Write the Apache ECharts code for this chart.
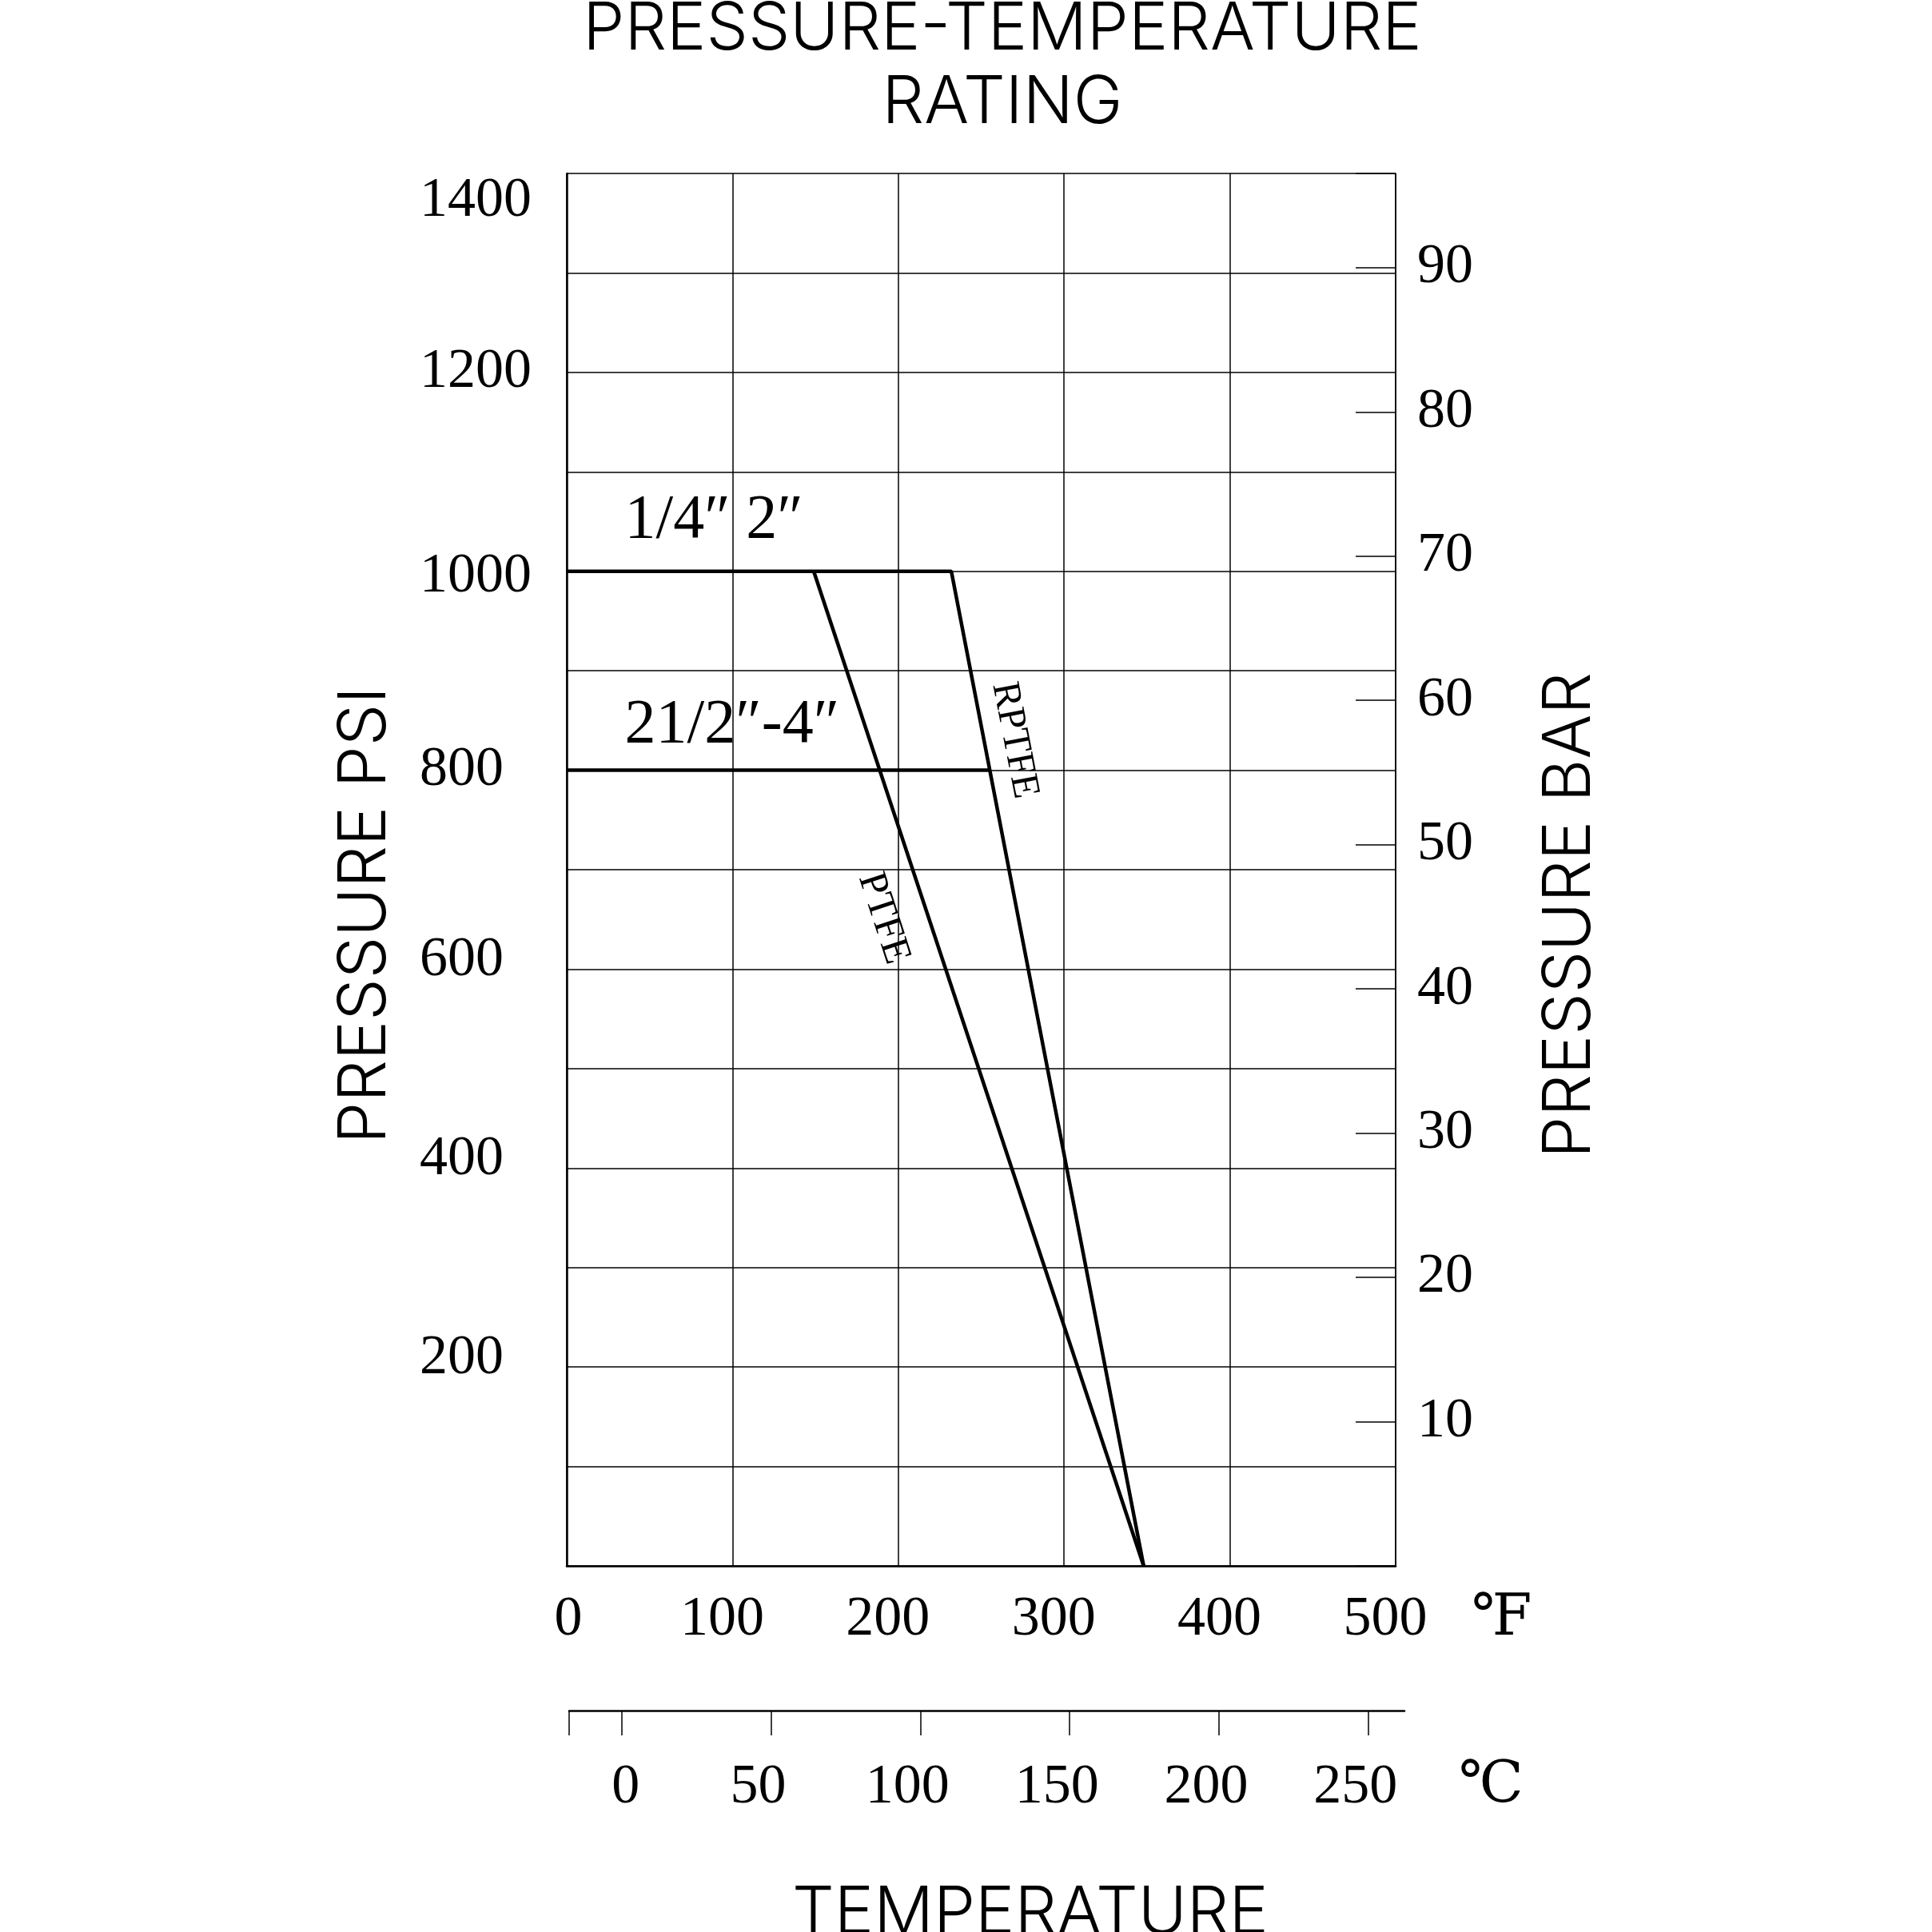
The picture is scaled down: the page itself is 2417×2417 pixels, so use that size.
<!DOCTYPE html>
<html>
<head>
<meta charset="utf-8">
<script src="https://cdn.jsdelivr.net/npm/echarts@6/dist/echarts.min.js"></script>
<style>html,body{margin:0;padding:0;background:#fff}#c{width:2417px;height:2417px}</style>
</head>
<body>
<div id="c"></div>
<script>
// ---- axis ticks / labels ----
const tempFTicks = [0, 100, 200, 300, 400, 500];
const tempCLabels = [0, 50, 100, 150, 200, 250];
const psiLabels = [200, 400, 600, 800, 1000, 1200, 1400];
const barLabels = [10, 20, 30, 40, 50, 60, 70, 80, 90];
const PSI_PER_BAR = 14.5038;
const psiMax = 1400;
const cMin = -17.6, cMax = 262.1;

// ---- series values (°F, psi) ----
const rptfeSmallTemp = [0, 232, 348];   // 1/4"-2" RPTFE
const rptfeSmallPsi  = [1000, 1000, 0];
const ptfeTemp = [149, 348];           // PTFE
const ptfePsi  = [1000, 0];
const rptfeLargeTemp = [0, 255];        // 2 1/2"-4"
const rptfeLargePsi  = [800, 800];

// ---- annotations ----
const annoText = ['1/4″ 2″', '21/2″-4″', 'RPTFE', 'PTFE'];
const annoTemp = [35, 35, 270, 191];
const annoPsi  = [1051, 845, 830, 651];

const zip = (a, b) => a.map((v, i) => [v, b[i]]);

const sansTitle = {fontFamily: 'Inter, "Noto Sans", sans-serif', fontWeight: 300, fontSize: 83, color: '#000'};
const serif = '"Liberation Serif", "DejaVu Serif", serif';
const unitFont = '"DejaVu Serif", "DejaVu Sans", "Noto Sans CJK SC", serif';
const digitStyle = {fontFamily: serif, fontSize: 70, color: '#000'};

const lineStyle = {color: '#000', width: 4.5};
const gridLine = {lineStyle: {color: '#000', width: 1.5}};

const annoStyles = [
  {fontSize: 78, align: 'left', rotate: 0},
  {fontSize: 78, align: 'left', rotate: 0},
  {fontSize: 49, align: 'center', rotate: -79},
  {fontSize: 50, align: 'center', rotate: -72}
];

const chart = echarts.init(document.getElementById('c'), null, {renderer: 'canvas'});
chart.setOption({
  animation: false,
  backgroundColor: '#fff',
  title: [
    {text: 'PRESSURE-TEMPERATURE\nRATING', left: 1254, top: -9, padding: 0, textAlign: 'center',
     textStyle: Object.assign({}, sansTitle, {lineHeight: 92})},
    {text: 'TEMPERATURE', left: 1289, top: 2348, padding: 0, textAlign: 'center',
     textStyle: Object.assign({}, sansTitle, {lineHeight: 92})},
    {text: '℉', left: 1841, top: 1990, padding: 0, textAlign: 'left',
     textStyle: {fontFamily: unitFont, fontWeight: 'normal', fontSize: 72, lineHeight: 72, color: '#000'}},
    {text: '℃', left: 1825, top: 2199, padding: 0, textAlign: 'left',
     textStyle: {fontFamily: unitFont, fontWeight: 'normal', fontSize: 72, lineHeight: 72, color: '#000'}}
  ],
  grid: [
    {left: 709, top: 217, width: 1037, height: 1742, outerBoundsMode: 'none', containLabel: false},
    {left: 712, top: 2139, width: 1045, height: 1, outerBoundsMode: 'none', containLabel: false}
  ],
  xAxis: [
    {
      type: 'value', gridIndex: 0, min: tempFTicks[0], max: tempFTicks[tempFTicks.length - 1], interval: 100,
      axisLine: {show: true, onZero: false, lineStyle: {color: '#000', width: 2.5}},
      axisTick: {show: false},
      splitLine: Object.assign({show: true}, gridLine),
      axisLabel: Object.assign({show: true, margin: 33,
        formatter: v => !tempFTicks.includes(v) ? '' : (v === 0 ? '{z|0}' : '{s|' + v + '}'),
        rich: {z: Object.assign({padding: [0, 0, 0, 4]}, digitStyle), s: Object.assign({padding: [0, 26, 0, 0]}, digitStyle)}
      }, digitStyle)
    },
    {
      type: 'value', gridIndex: 1, min: cMin, max: cMax,
      axisLine: {show: true, onZero: false, lineStyle: {color: '#000', width: 2.5}},
      axisTick: {show: true, length: 31, lineStyle: {color: '#000', width: 1.5}, customValues: [cMin].concat(tempCLabels)},
      splitLine: {show: false},
      axisLabel: Object.assign({show: true, margin: 62, customValues: tempCLabels,
        formatter: v => v === 0 ? '{z|0}' : '{s|' + v + '}',
        rich: {z: Object.assign({padding: [0, 0, 0, 10]}, digitStyle), s: Object.assign({padding: [0, 32, 0, 0]}, digitStyle)}
      }, digitStyle)
    }
  ],
  yAxis: [
    {
      type: 'value', gridIndex: 0, min: 0, max: psiMax, interval: 100,
      name: 'PRESSURE PSI', nameLocation: 'middle', nameRotate: 90, nameGap: 210,
      nameTextStyle: Object.assign({}, sansTitle, {lineHeight: 83, padding: [0, 114, 0, 0]}),
      axisLine: {show: true, onZero: false, lineStyle: {color: '#000', width: 2.5}},
      axisTick: {show: false},
      splitLine: Object.assign({show: true}, gridLine),
      axisLabel: Object.assign({show: true, align: 'left', margin: 184,
        formatter: v => {
          if (!psiLabels.includes(v)) return '';
          if (v === 1400) return '{d|' + v + '}';
          if (v === 1000) return '{d1|' + v + '}';
          if (v <= 600) return '{u|' + v + '}';
          return '{n|' + v + '}';
        },
        rich: {
          d: Object.assign({padding: [70, 0, 0, 0]}, digitStyle),
          d1: Object.assign({padding: [14, 0, 0, 0]}, digitStyle),
          u: Object.assign({padding: [0, 0, 22, 0]}, digitStyle),
          n: Object.assign({}, digitStyle)
        }
      }, digitStyle)
    },
    {
      type: 'value', gridIndex: 0, position: 'right', min: 0, max: psiMax / PSI_PER_BAR, interval: 10,
      name: 'PRESSURE BAR', nameLocation: 'middle', nameRotate: 90, nameGap: 177,
      nameTextStyle: Object.assign({}, sansTitle, {lineHeight: 83, padding: [0, 114, 0, 0]}),
      axisLine: {show: true, onZero: false, lineStyle: {color: '#000', width: 1.5}},
      axisTick: {show: true, inside: true, length: 50, lineStyle: {color: '#000', width: 1.5}},
      splitLine: {show: false},
      axisLabel: Object.assign({show: true, align: 'left', margin: 27,
        formatter: v => barLabels.includes(Math.round(v * 1000) / 1000) ? String(v) : ''}, digitStyle)
    },
    {type: 'value', gridIndex: 1, show: false, min: 0, max: 1}
  ],
  series: [
    {type: 'line', name: 'RPTFE 1/4″-2″', xAxisIndex: 0, yAxisIndex: 0, data: zip(rptfeSmallTemp, rptfeSmallPsi),
     symbol: 'none', lineStyle: lineStyle, z: 5},
    {type: 'line', name: 'PTFE', xAxisIndex: 0, yAxisIndex: 0, data: zip(ptfeTemp, ptfePsi),
     symbol: 'none', lineStyle: lineStyle, z: 5},
    {type: 'line', name: 'RPTFE 21/2″-4″', xAxisIndex: 0, yAxisIndex: 0, data: zip(rptfeLargeTemp, rptfeLargePsi),
     symbol: 'none', lineStyle: lineStyle, z: 5},
    {type: 'scatter', name: 'labels', xAxisIndex: 0, yAxisIndex: 0, symbolSize: 1, z: 6,
     itemStyle: {color: 'rgba(0,0,0,0)', opacity: 1},
     data: annoText.map((t, i) => ({
       value: [annoTemp[i], annoPsi[i]], name: t,
       label: {show: true, position: 'inside', formatter: t, color: '#000', opacity: 1, fontFamily: serif,
               fontSize: annoStyles[i].fontSize, align: annoStyles[i].align, verticalAlign: 'middle',
               rotate: annoStyles[i].rotate, textBorderWidth: 0}
     }))}
  ]
});
</script>
</body>
</html>
